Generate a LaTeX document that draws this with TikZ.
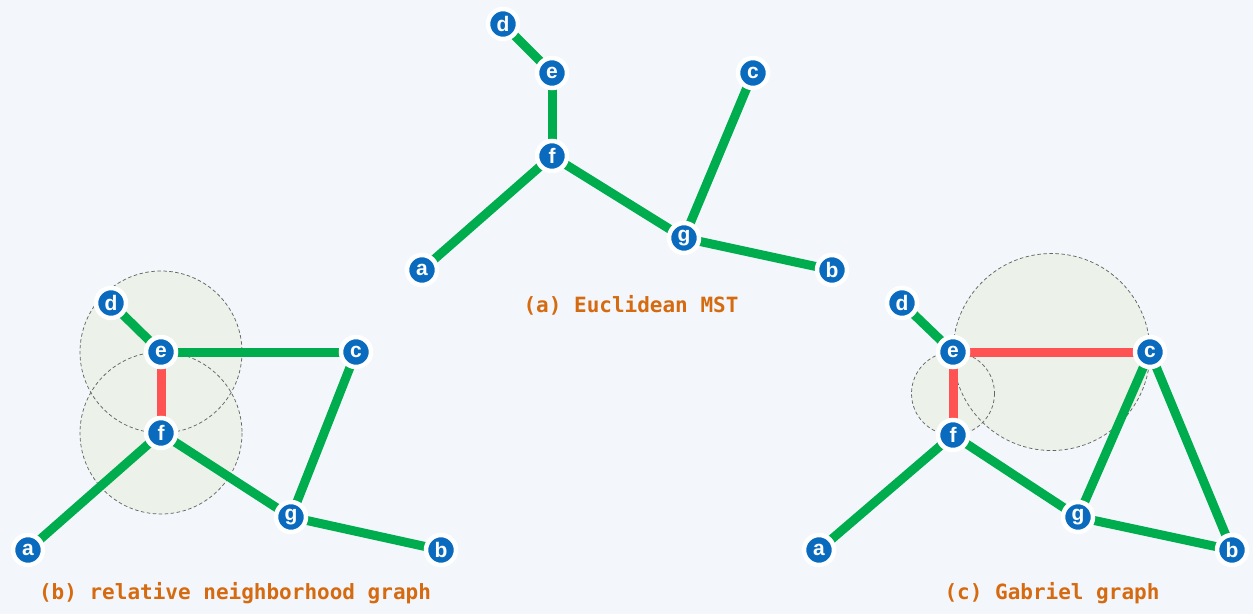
\documentclass[tikz,border=0pt]{standalone}
\usepackage{fontspec}
\setmainfont{Liberation Sans}
\newfontfamily\labfont{DejaVu Sans Mono}
\usetikzlibrary{shadows}
\definecolor{bgc}{HTML}{F3F7FB}
\definecolor{nodeblue}{HTML}{0A6BBE}
\definecolor{edgegreen}{HTML}{00AD4E}
\definecolor{edgered}{HTML}{FF5252}
\definecolor{circfill}{HTML}{ECF1E9}
\definecolor{labcol}{HTML}{D66A10}
\tikzset{
  vtx/.style={circle, fill=nodeblue, draw=white, line width=4.5pt, minimum size=30pt, inner sep=0pt,
    text=white, font=\fontsize{21}{21}\selectfont\bfseries,
    drop shadow={opacity=0.25, shadow xshift=0.8pt, shadow yshift=-1.8pt}},
  ge/.style={draw=edgegreen, line width=9pt},
  re/.style={draw=edgered, line width=9pt},
  discfill/.style={fill=circfill},
  discline/.style={draw=black!60, dash pattern=on 3.5pt off 2.5pt, line width=0.75pt},
  caption/.style={text=labcol, font=\labfont\bfseries\fontsize{21}{21}\selectfont}
}
\begin{document}
\begin{tikzpicture}[x=1pt,y=-1pt]
\fill[bgc] (0,0) rectangle (1253,614);
\useasboundingbox (0,0) rectangle (1253,614);
% ---------- panel (a)
\coordinate (pad) at (503,24);
\coordinate (pae) at (552,73);
\coordinate (pac) at (753,73);
\coordinate (paf) at (552,156);
\coordinate (pag) at (684,238);
\coordinate (paa) at (422,270);
\coordinate (pab) at (832,270);
\path[ge] (pad) -- (pae);
\path[ge] (pae) -- (paf);
\path[ge] (paf) -- (paa);
\path[ge] (paf) -- (pag);
\path[ge] (pag) -- (pac);
\path[ge] (pag) -- (pab);
\node[vtx] (ad) at (pad) {d};
\node[vtx] (ae) at (pae) {e};
\node[vtx] (ac) at (pac) {c};
\node[vtx] (af) at (paf) {f};
\node[vtx] (ag) at (pag) {g};
\node[vtx] (aa) at (paa) {a};
\node[vtx] (ab) at (pab) {b};
\node[caption] (capa) at (631,305) {(a) Euclidean MST};
% ---------- panel (b)
\coordinate (pbd) at (111,303);
\coordinate (pbe) at (161,352);
\coordinate (pbc) at (356,352);
\coordinate (pbf) at (161,433);
\coordinate (pbg) at (291,517);
\coordinate (pba) at (28,550);
\coordinate (pbb) at (441,550);
\path[discfill] (pbe) circle[radius=81];
\path[discfill] (pbf) circle[radius=81];
\path[discline] (pbe) circle[radius=81];
\path[discline] (pbf) circle[radius=81];
\path[ge] (pbd) -- (pbe);
\path[ge] (pbe) -- (pbc);
\path[re] (pbe) -- (pbf);
\path[ge] (pbf) -- (pba);
\path[ge] (pbf) -- (pbg);
\path[ge] (pbg) -- (pbc);
\path[ge] (pbg) -- (pbb);
\node[vtx] (bd) at (pbd) {d};
\node[vtx] (be) at (pbe) {e};
\node[vtx] (bc) at (pbc) {c};
\node[vtx] (bf) at (pbf) {f};
\node[vtx] (bg) at (pbg) {g};
\node[vtx] (ba) at (pba) {a};
\node[vtx] (bb) at (pbb) {b};
\node[caption] (capb) at (235,593) {(b) relative neighborhood graph};
% ---------- panel (c)
\coordinate (pcd) at (902,303);
\coordinate (pce) at (953,352);
\coordinate (pcc) at (1150,352);
\coordinate (pcf) at (953,435);
\coordinate (pcg) at (1078,517);
\coordinate (pca) at (819,550);
\coordinate (pcb) at (1232,550);
\coordinate (mec) at (1051.5,352);
\coordinate (mef) at (953,393.5);
\path[discfill] (mec) circle[radius=98.5];
\path[discfill] (mef) circle[radius=41.5];
\path[discline] (mec) circle[radius=98.5];
\path[discline] (mef) circle[radius=41.5];
\path[ge] (pcd) -- (pce);
\path[re] (pce) -- (pcc);
\path[re] (pce) -- (pcf);
\path[ge] (pcf) -- (pca);
\path[ge] (pcf) -- (pcg);
\path[ge] (pcg) -- (pcc);
\path[ge] (pcg) -- (pcb);
\path[ge] (pcc) -- (pcb);
\node[vtx] (cd) at (pcd) {d};
\node[vtx] (ce) at (pce) {e};
\node[vtx] (cc) at (pcc) {c};
\node[vtx] (cf) at (pcf) {f};
\node[vtx] (cg) at (pcg) {g};
\node[vtx] (ca) at (pca) {a};
\node[vtx] (cb) at (pcb) {b};
\node[caption] (capc) at (1052,593) {(c) Gabriel graph};
\end{tikzpicture}
\end{document}
